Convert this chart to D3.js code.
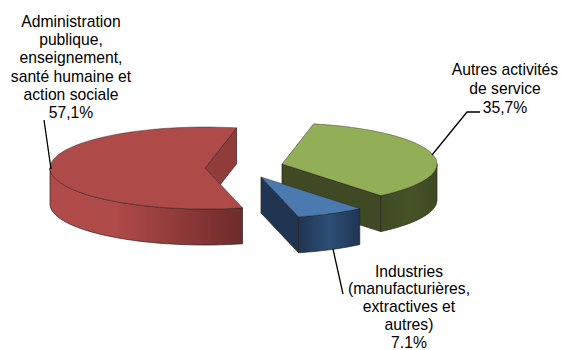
<!DOCTYPE html>
<html><head><meta charset="utf-8">
<script src="https://cdn.jsdelivr.net/npm/d3@7/dist/d3.min.js"></script>
<style>html,body{margin:0;padding:0;background:#fff}svg{display:block}</style>
</head><body><svg id="c" width="561" height="350"></svg>
<script>
const categories = ["Administration publique", "Autres activités de service", "Industries"];
const values = [57.1, 35.7, 7.1];
const labelLines = [
  ["Administration","publique,","enseignement,","santé humaine et","action sociale","57,1%"],
  ["Autres activités","de service","35,7%"],
  ["Industries","(manufacturières,","extractives et","autres)","7.1%"]
];
const topColors = ["#ae4a48","#92ae56","#4a7ab0"];
const innerColors = ["#903c3a","#3f4a24","#1f3552"];
const wallStops = [
  [["#b04b49",0],["#ae4a48",.35],["#6e2b2b",1]],
  [["#3f4a24",0],["#465227",.5],["#3f4a24",1]],
  [["#1f3552",0],["#2e4f77",.5],["#1f3552",1]]
];
const explode = [[205,168],[282,164],[261,177]];
const labelPos = [[71,27],[505,75],[409,276.5]];
const labelGap = [18.2,19,17.9];
const leaders = [
  [[44,120],[51,169]],
  [[480,112],[467,112],[432,155]],
  [[333,249],[343,294]]
];
const rx = 155, ry = 41, depth = 36;
const svg = d3.select("#c");
const defs = svg.append("defs");
const rad = d => d*Math.PI/180;
const arcs = d3.pie().sort(null).startAngle(rad(166)).endAngle(rad(526))(values);
const px = (i,a) => explode[i][0] + rx*Math.sin(a);
const py = (i,a) => explode[i][1] - ry*Math.cos(a);
const line = d3.line();
const samples = (s,e) => d3.range(0,61).map(k => s+(e-s)*k/60);
const stroke = "#2b2020";

function wallRange(a){
  const T = 2*Math.PI;
  for (const off of [0,T]) {
    const s = Math.max(a.startAngle, rad(90)+off), e = Math.min(a.endAngle, rad(270)+off);
    if (e > s) return [s,e];
  }
  return null;
}
const order = [1,0,2];
order.forEach(i => {
  const a = arcs[i], g = svg.append("g");
  const ax = explode[i][0], ay = explode[i][1];
  const ex = px(i,a.endAngle), ey = py(i,a.endAngle);
  g.append("path").attr("d", line([[ax,ay],[ex,ey],[ex,ey+depth],[ax,ay+depth]])+"Z")
    .attr("fill", innerColors[i]).attr("stroke",stroke).attr("stroke-width",.7);
  const r = wallRange(a);
  if (r) {
    const top = samples(r[0],r[1]).map(t => [px(i,t),py(i,t)]);
    const bot = top.map(p => [p[0],p[1]+depth]).reverse();
    const xs = top.map(p => p[0]);
    const id = "w"+i;
    defs.append("linearGradient").attr("id",id).attr("gradientUnits","userSpaceOnUse")
      .attr("x1",d3.min(xs)).attr("x2",d3.max(xs)).attr("y1",0).attr("y2",0)
      .selectAll("stop").data(wallStops[i]).join("stop")
      .attr("offset",d=>d[1]).attr("stop-color",d=>d[0]);
    g.append("path").attr("d", line(top.concat(bot))+"Z")
      .attr("fill",`url(#${id})`).attr("stroke",stroke).attr("stroke-width",.7);
  }
  const pts = [[ax,ay]].concat(samples(a.startAngle,a.endAngle).map(t => [px(i,t),py(i,t)]));
  g.append("path").attr("d", line(pts)+"Z").attr("fill",topColors[i])
    .attr("stroke",stroke).attr("stroke-opacity",.6).attr("stroke-width",.7);
});
svg.append("g").selectAll("path").data(leaders).join("path")
  .attr("d", d=>line(d)).attr("fill","none").attr("stroke","#000").attr("stroke-width",1.3);
svg.append("g").selectAll("text").data(labelLines).join("text")
  .attr("font-family","'Liberation Sans',Arial,sans-serif").attr("font-size",15.7).attr("fill","#000")
  .attr("text-anchor","middle")
  .each(function(d,i){
    d3.select(this).selectAll("tspan").data(d).join("tspan")
      .attr("x",labelPos[i][0]).attr("y",(t,k)=>labelPos[i][1]+k*labelGap[i]).text(t=>t);
  });
</script></body></html>
